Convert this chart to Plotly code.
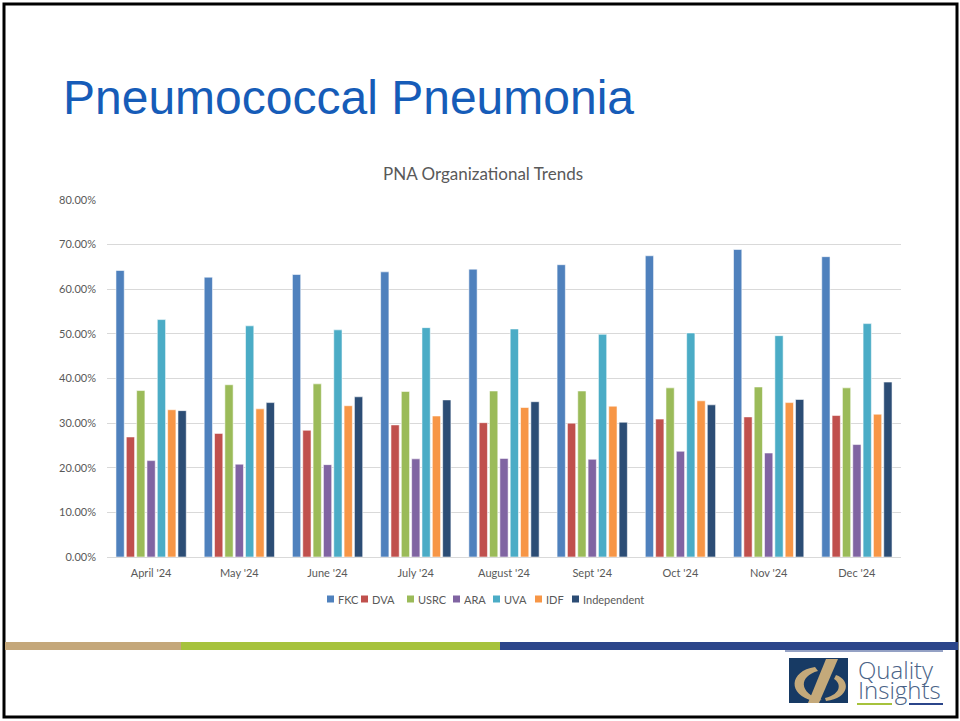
import plotly.graph_objects as go

months = ["April '24", "May '24", "June '24", "July '24", "August '24", "Sept '24", "Oct '24", "Nov '24", "Dec '24"]
fkc = [64.2, 62.7, 63.3, 63.9, 64.5, 65.5, 67.5, 68.9, 67.3]
dva = [26.9, 27.7, 28.4, 29.6, 30.1, 30.0, 30.9, 31.4, 31.7]
usrc = [37.3, 38.6, 38.8, 37.1, 37.2, 37.2, 37.9, 38.1, 37.9]
ara = [21.6, 20.8, 20.7, 22.0, 22.1, 21.9, 23.7, 23.3, 25.2]
uva = [53.2, 51.8, 50.9, 51.4, 51.1, 49.9, 50.2, 49.6, 52.3]
idf = [33.0, 33.2, 33.9, 31.6, 33.5, 33.8, 35.0, 34.6, 32.0]
independent = [32.8, 34.6, 35.9, 35.2, 34.8, 30.2, 34.1, 35.3, 39.2]

series_names = ["FKC", "DVA", "USRC", "ARA", "UVA", "IDF", "Independent"]
series_values = [fkc, dva, usrc, ara, uva, idf, independent]
series_colors = ["#4F81BD", "#C0504D", "#9BBB59", "#8064A2", "#4BACC6", "#F79646", "#2C4D75"]

y_ticks = [0, 10, 20, 30, 40, 50, 60, 70, 80]
y_tick_labels = ["0.00%", "10.00%", "20.00%", "30.00%", "40.00%", "50.00%", "60.00%", "70.00%", "80.00%"]

# plot area in pixels
L, R, T, B = 107, 901, 200, 557
W, H = R - L, B - T


def px(x):
    return (x - L) / W


def py(y):
    return (B - y) / H


def path(points_cmds):
    out = []
    for tok in points_cmds:
        if isinstance(tok, str):
            out.append(tok)
        else:
            out.append(f"{px(tok[0]):.5f},{py(tok[1]):.5f}")
    return " ".join(out)


fig = go.Figure()
for name, vals, col in zip(series_names, series_values, series_colors):
    fig.add_trace(go.Bar(
        x=months, y=vals, name=name,
        marker=dict(color=col, line=dict(color="rgba(255,255,255,0.55)", width=1)),
        showlegend=False,
    ))

gray = "#595959"
font_body = "Lato, Open Sans, sans-serif"

shapes = []
annotations = []

# slide border
shapes.append(dict(type="rect", xref="paper", yref="paper",
                   x0=px(4), x1=px(957), y0=py(4), y1=py(717),
                   line=dict(color="black", width=3), fillcolor="rgba(0,0,0,0)", layer="below"))

# bottom stripes
for x0, x1, c in [(5, 181, "#C4A77A"), (181, 500, "#A6C23C"), (500, 958, "#2B458A")]:
    shapes.append(dict(type="rect", xref="paper", yref="paper",
                       x0=px(x0), x1=px(x1), y0=py(642), y1=py(650),
                       line=dict(width=0), fillcolor=c))
shapes.append(dict(type="line", xref="paper", yref="paper",
                   x0=px(785), x1=px(943), y0=py(651), y1=py(651),
                   line=dict(color="#2B458A", width=1)))

# logo
shapes.append(dict(type="rect", xref="paper", yref="paper",
                   x0=px(789), x1=px(848), y0=py(658), y1=py(703),
                   line=dict(width=0), fillcolor="#173A64"))
tan = "#C4A97A"
shapes.append(dict(type="path", xref="paper", yref="paper", fillcolor=tan, line=dict(width=0),
                   path=path(["M", (815, 667), "C", (789, 671), (787, 695), (814, 701),
                              "L", (822, 700), "C", (798, 693), (799, 676), (818, 671), "Z"])))
shapes.append(dict(type="path", xref="paper", yref="paper", fillcolor=tan, line=dict(width=0),
                   path=path(["M", (826, 659), "L", (838, 659), "L", (819, 703), "L", (808, 703), "Z"])))
shapes.append(dict(type="path", xref="paper", yref="paper", fillcolor=tan, line=dict(width=0),
                   path=path(["M", (836, 675), "C", (851, 680), (850, 698), (826, 701),
                              "L", (825, 698), "C", (842, 694), (841, 683), (834, 679), "Z"])))
annotations.append(dict(text="Quality", xref="paper", yref="paper", x=px(856), y=py(669),
                        xanchor="left", yanchor="middle", showarrow=False,
                        font=dict(family="Open Sans", size=24, color="#4A6387", weight=300)))
annotations.append(dict(text="Insights", xref="paper", yref="paper", x=px(856), y=py(689),
                        xanchor="left", yanchor="middle", showarrow=False,
                        font=dict(family="Open Sans", size=24, color="#4A6387", weight=300)))
shapes.append(dict(type="line", xref="paper", yref="paper", x0=px(857), x1=px(892), y0=py(704), y1=py(704),
                   line=dict(color="#A6C23C", width=2)))
shapes.append(dict(type="line", xref="paper", yref="paper", x0=px(909), x1=px(943), y0=py(704), y1=py(704),
                   line=dict(color="#2B458A", width=2)))

# slide title
annotations.append(dict(text="Pneumococcal Pneumonia", xref="paper", yref="paper",
                        x=px(61), y=py(98), xanchor="left", yanchor="middle", showarrow=False,
                        font=dict(family="Liberation Sans, Arial", size=48, color="#165CB8")))
# chart title
annotations.append(dict(text="PNA Organizational Trends", xref="paper", yref="paper",
                        x=px(483), y=py(173), xanchor="center", yanchor="middle", showarrow=False,
                        font=dict(family=font_body, size=17, color=gray)))

# manual legend
leg_x = [327, 361, 407, 453, 493, 535, 572]
for name, col, lx in zip(series_names, series_colors, leg_x):
    shapes.append(dict(type="rect", xref="paper", yref="paper",
                       x0=px(lx), x1=px(lx + 7), y0=py(595.5), y1=py(602.5),
                       line=dict(width=0), fillcolor=col))
    annotations.append(dict(text=name, xref="paper", yref="paper", x=px(lx + 9), y=py(599),
                            xanchor="left", yanchor="middle", showarrow=False,
                            font=dict(family=font_body, size=11, color=gray)))

fig.update_layout(
    width=960, height=721,
    margin=dict(l=L, r=960 - R, t=T, b=721 - B, pad=0),
    paper_bgcolor="white", plot_bgcolor="white",
    barmode="group", bargap=0.18, bargroupgap=0.2,
    showlegend=False,
    shapes=shapes, annotations=annotations,
    font=dict(family=font_body, size=11, color=gray),
)
fig.update_xaxes(showgrid=False, showline=False, ticks="", ticklabelstandoff=8,
                 tickfont=dict(size=11, color=gray))
fig.update_yaxes(range=[0, 80], tickmode="array", tickvals=y_ticks, ticktext=y_tick_labels,
                 showgrid=True, gridcolor="#D9D9D9", gridwidth=1,
                 zeroline=True, zerolinecolor="#D9D9D9", zerolinewidth=1,
                 showline=False, ticks="", ticklabelstandoff=10,
                 tickfont=dict(size=11, color=gray))

fig.write_html("out.html", config={"displayModeBar": False},
               post_script="document.body.style.margin='0';document.body.style.overflow='hidden';")
